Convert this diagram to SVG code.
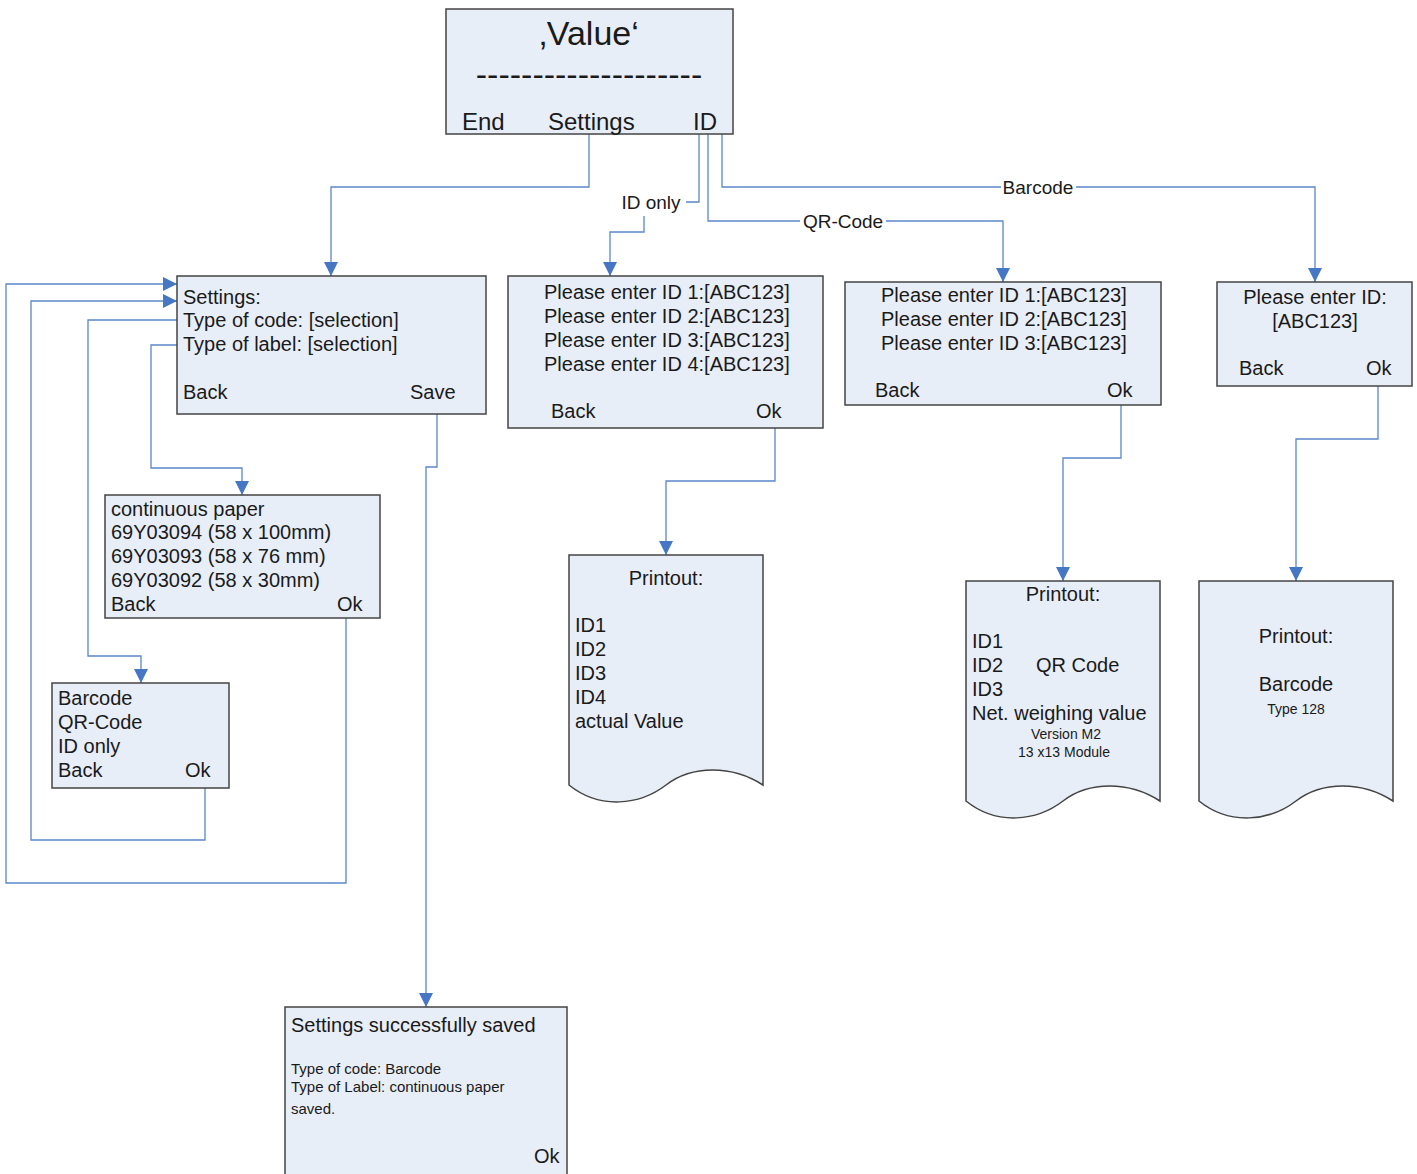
<svg xmlns="http://www.w3.org/2000/svg" width="1417" height="1174" viewBox="0 0 1417 1174">
<style>
.box{fill:#e8eef8;stroke:#444;stroke-width:1.5}
.t{font-family:"Liberation Sans",Arial,sans-serif;font-size:20px;fill:#1a1a1a}
.s{font-size:15px}
.xs{font-size:14px}
.c{text-anchor:middle}
.ln{fill:none;stroke:#5b87c9;stroke-width:1.3}
.lbl{font-family:"Liberation Sans",Arial,sans-serif;font-size:19px;fill:#1a1a1a;text-anchor:middle}
</style>
<defs>
<marker id="ah" markerUnits="userSpaceOnUse" markerWidth="14" markerHeight="14" viewBox="0 0 14 14" refX="14" refY="7" orient="auto">
<path d="M0,0 L14,7 L0,14 Z" fill="#4677c4"/>
</marker>
</defs>
<rect width="1417" height="1174" fill="#fff"/>

<g id="connectors">
<path class="ln" d="M589,134 V187 H331 V276" marker-end="url(#ah)"/>
<path class="ln" d="M699,134 V202 H684"/>
<path class="ln" d="M644,216 V232 H610 V276" marker-end="url(#ah)"/>
<path class="ln" d="M708,134 V221 H1003 V282" marker-end="url(#ah)"/>
<path class="ln" d="M722,134 V187 H1315 V282" marker-end="url(#ah)"/>
<path class="ln" d="M775,428 V481 H666 V555" marker-end="url(#ah)"/>
<path class="ln" d="M1121,405 V458 H1063 V581" marker-end="url(#ah)"/>
<path class="ln" d="M1378,386 V439 H1296 V581" marker-end="url(#ah)"/>
<path class="ln" d="M437,414 V467 H426 V1007" marker-end="url(#ah)"/>
<path class="ln" d="M177,345 H151 V468 H242 V495" marker-end="url(#ah)"/>
<path class="ln" d="M177,320 H88 V656 H141 V683" marker-end="url(#ah)"/>
<path class="ln" d="M205,788 V840 H31 V301 H177" marker-end="url(#ah)"/>
<path class="ln" d="M346,618 V883 H6 V284 H177" marker-end="url(#ah)"/>
<rect x="616" y="190" width="70" height="24" fill="#fff"/>
<text class="lbl" x="651" y="209">ID only</text>
<rect x="800" y="210" width="86" height="22" fill="#fff"/>
<text class="lbl" x="843" y="228">QR-Code</text>
<rect x="1001" y="176" width="75" height="22" fill="#fff"/>
<text class="lbl" x="1038" y="194">Barcode</text>
</g>

<g id="main">
<rect class="box" x="446" y="9" width="287" height="125"/>
<text class="t c" x="589" y="45" style="font-size:34px">‚Value‘</text>
<text class="t c" x="589" y="86" style="font-size:34px">--------------------</text>
<text class="t" x="462" y="130" style="font-size:24px">End</text>
<text class="t" x="548" y="130" style="font-size:24px">Settings</text>
<text class="t" x="693" y="130" style="font-size:24px">ID</text>
</g>

<g id="settings">
<rect class="box" x="177" y="276" width="309" height="138"/>
<text class="t" x="183" y="304">Settings:</text>
<text class="t" x="183" y="327">Type of code: [selection]</text>
<text class="t" x="183" y="351">Type of label: [selection]</text>
<text class="t" x="183" y="399">Back</text>
<text class="t" x="410" y="399">Save</text>
</g>

<g id="idonly-input">
<rect class="box" x="508" y="276" width="315" height="152"/>
<text class="t" x="544" y="299">Please enter ID 1:[ABC123]</text>
<text class="t" x="544" y="323">Please enter ID 2:[ABC123]</text>
<text class="t" x="544" y="347">Please enter ID 3:[ABC123]</text>
<text class="t" x="544" y="371">Please enter ID 4:[ABC123]</text>
<text class="t" x="551" y="418">Back</text>
<text class="t" x="756" y="418">Ok</text>
</g>

<g id="qr-input">
<rect class="box" x="845" y="282" width="316" height="123"/>
<text class="t" x="881" y="302">Please enter ID 1:[ABC123]</text>
<text class="t" x="881" y="326">Please enter ID 2:[ABC123]</text>
<text class="t" x="881" y="350">Please enter ID 3:[ABC123]</text>
<text class="t" x="875" y="397">Back</text>
<text class="t" x="1107" y="397">Ok</text>
</g>

<g id="barcode-input">
<rect class="box" x="1217" y="282" width="195" height="104"/>
<text class="t c" x="1315" y="304">Please enter ID:</text>
<text class="t c" x="1315" y="328">[ABC123]</text>
<text class="t" x="1239" y="375">Back</text>
<text class="t" x="1366" y="375">Ok</text>
</g>

<g id="label-select">
<rect class="box" x="105" y="495" width="275" height="123"/>
<text class="t" x="111" y="516">continuous paper</text>
<text class="t" x="111" y="539">69Y03094 (58 x 100mm)</text>
<text class="t" x="111" y="563">69Y03093 (58 x 76 mm)</text>
<text class="t" x="111" y="587">69Y03092 (58 x 30mm)</text>
<text class="t" x="111" y="611">Back</text>
<text class="t" x="337" y="611">Ok</text>
</g>

<g id="code-select">
<rect class="box" x="52" y="683" width="177" height="105"/>
<text class="t" x="58" y="705">Barcode</text>
<text class="t" x="58" y="729">QR-Code</text>
<text class="t" x="58" y="753">ID only</text>
<text class="t" x="58" y="777">Back</text>
<text class="t" x="185" y="777">Ok</text>
</g>

<g id="printout-id">
<path class="box" d="M569,555 H763 V785 C732,765 692,765 666,785 C640,805 600,810 569,785 Z"/>
<text class="t c" x="666" y="585">Printout:</text>
<text class="t" x="575" y="632">ID1</text>
<text class="t" x="575" y="656">ID2</text>
<text class="t" x="575" y="680">ID3</text>
<text class="t" x="575" y="704">ID4</text>
<text class="t" x="575" y="728">actual Value</text>
</g>

<g id="printout-qr">
<path class="box" d="M966,581 H1160 V801 C1129,781 1089,781 1063,801 C1037,821 997,826 966,801 Z"/>
<text class="t c" x="1063" y="601">Printout:</text>
<text class="t" x="972" y="648">ID1</text>
<text class="t" x="972" y="672">ID2</text>
<text class="t" x="1036" y="672">QR Code</text>
<text class="t" x="972" y="696">ID3</text>
<text class="t" x="972" y="720">Net. weighing value</text>
<text class="t xs c" x="1066" y="739">Version M2</text>
<text class="t xs c" x="1064" y="757">13 x13 Module</text>
</g>

<g id="printout-barcode">
<path class="box" d="M1199,581 H1393 V801 C1362,781 1322,781 1296,801 C1270,821 1230,826 1199,801 Z"/>
<text class="t c" x="1296" y="643">Printout:</text>
<text class="t c" x="1296" y="691">Barcode</text>
<text class="t xs c" x="1296" y="714">Type 128</text>
</g>

<g id="saved">
<rect class="box" x="285" y="1007" width="282" height="170"/>
<text class="t" x="291" y="1032">Settings successfully saved</text>
<text class="t s" x="291" y="1074">Type of code: Barcode</text>
<text class="t s" x="291" y="1092">Type of Label: continuous paper</text>
<text class="t s" x="291" y="1114">saved.</text>
<text class="t" x="534" y="1163">Ok</text>
</g>
</svg>
